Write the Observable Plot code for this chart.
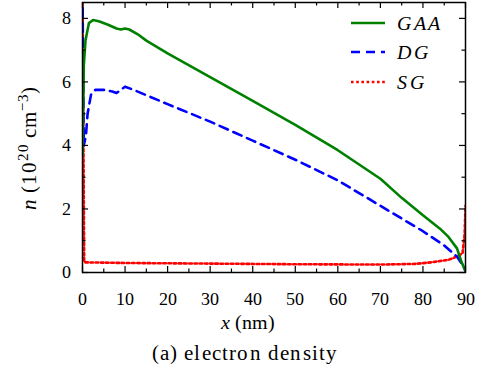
<!DOCTYPE html>
<html>
<head>
<meta charset="utf-8">
<script src="https://cdn.jsdelivr.net/npm/d3@7"></script>
<script src="https://cdn.jsdelivr.net/npm/@observablehq/plot@0.6"></script>
<style>
  @font-face { font-family: "ChartSerif"; font-style: normal; src: local("Liberation Serif"), local("LiberationSerif"), local("Times New Roman"); }
  @font-face { font-family: "ChartSerif"; font-style: italic; src: local("Liberation Serif Italic"), local("LiberationSerif-Italic"), local("Times New Roman Italic"); }
  html, body { margin: 0; padding: 0; background: #fff; }
  .caption { font-family: "ChartSerif", "Liberation Serif", serif !important; font-size: 21px; letter-spacing: 1.2px; text-align: center; width: 486px; margin-top: 3px; padding-left: 2px; }
  #chart svg text, #chart svg tspan { font-family: "ChartSerif", "Liberation Serif", serif !important; }
</style>
</head>
<body>
<div id="chart"></div>
<div class="caption">(a) electron density</div>
<script>
// Electron density along the channel, three device geometries
const gaaX = [0, 0.3, 0.7, 1.5, 2.5, 4, 6, 8, 9, 10, 11, 13, 15, 20, 30, 40, 50, 60, 70, 75, 80, 84, 86, 88, 89, 90];
const gaaN = [3.7, 6.5, 7.3, 7.85, 7.95, 7.9, 7.8, 7.68, 7.65, 7.68, 7.65, 7.5, 7.3, 6.9, 6.15, 5.4, 4.65, 3.85, 2.95, 2.35, 1.8, 1.38, 1.12, 0.76, 0.35, 0.05];

const dgX = [0, 0.3, 0.8, 1.2, 2, 3, 5, 7, 8, 10, 12, 20, 30, 40, 50, 60, 70, 75, 80, 85, 88, 89.5, 90];
const dgN = [8.8, 4.0, 4.3, 5.0, 5.6, 5.75, 5.75, 5.7, 5.65, 5.85, 5.75, 5.3, 4.75, 4.15, 3.55, 2.9, 2.1, 1.7, 1.3, 0.85, 0.5, 0.2, 0.05];

const sgX = [0, 0.4, 10, 30, 50, 70, 78, 82, 86, 88, 89.3, 89.8, 90];
const sgN = [8.8, 0.32, 0.3, 0.28, 0.26, 0.25, 0.27, 0.32, 0.4, 0.5, 0.6, 1.2, 2.1];

const xMajor = [0, 10, 20, 30, 40, 50, 60, 70, 80, 90];
const xMinor = [5, 15, 25, 35, 45, 55, 65, 75, 85];
const yMajor = [0, 2, 4, 6, 8];
const yMinor = [1, 3, 5, 7];

const seriesNames = ["GAA", "DG", "SG"];
const seriesColors = ["#008000", "#0000ff", "#ff0000"];
const seriesDash = [null, "9,6", "2.6,2.6"];

const toRows = (xs, ns) => xs.map((x, i) => ({x, n: ns[i]}));
const gaa = toRows(gaaX, gaaN);
const dg = toRows(dgX, dgN);
const sg = toRows(sgX, sgN);

const FONT = "ChartSerif, 'Liberation Serif', serif";
const W = 486, H = 338;
const mL = 82, mR = 21, mT = 2, mB = 66;
const frameW = W - mL - mR;
const frameH = H - mT - mB;
const major = 6, minor = 3.5;
const tickStyle = {stroke: "#000", strokeWidth: 1.2};

const plot = Plot.plot({
  width: W,
  height: H,
  marginLeft: mL,
  marginRight: mR,
  marginTop: mT,
  marginBottom: mB,
  style: {background: "#fff", overflow: "visible"},
  x: {domain: [0, 90]},
  y: {domain: [0, 8.5]},
  marks: [
    Plot.lineY(sg, {x: "x", y: "n", stroke: seriesColors[2], strokeWidth: 2.6, strokeDasharray: seriesDash[2], clip: "frame"}),
    Plot.lineY(dg, {x: "x", y: "n", stroke: seriesColors[1], strokeWidth: 2.6, strokeDasharray: seriesDash[1], clip: "frame"}),
    Plot.lineY(gaa, {x: "x", y: "n", stroke: seriesColors[0], strokeWidth: 2.6, clip: "frame"}),
    // inward ticks on all four sides
    Plot.tickX(xMajor, {x: d => d, insetTop: frameH - major, ...tickStyle}),
    Plot.tickX(xMajor, {x: d => d, insetBottom: frameH - major, ...tickStyle}),
    Plot.tickX(xMinor, {x: d => d, insetTop: frameH - minor, ...tickStyle}),
    Plot.tickX(xMinor, {x: d => d, insetBottom: frameH - minor, ...tickStyle}),
    Plot.tickY(yMajor, {y: d => d, insetRight: frameW - major, ...tickStyle}),
    Plot.tickY(yMajor, {y: d => d, insetLeft: frameW - major, ...tickStyle}),
    Plot.tickY(yMinor, {y: d => d, insetRight: frameW - minor, ...tickStyle}),
    Plot.tickY(yMinor, {y: d => d, insetLeft: frameW - minor, ...tickStyle}),
    Plot.axisX(xMajor, {tickSize: 0, tickPadding: 20, fontSize: 18, label: null, fill: "#000"}),
    Plot.axisY(yMajor, {tickSize: 0, tickPadding: 12, fontSize: 18, label: null, fill: "#000"}),
    Plot.frame({stroke: "#000", strokeWidth: 1.5})
  ]
});

document.getElementById("chart").appendChild(plot);

const svg = d3.select(plot);

// axis titles
const xt = svg.append("text")
  .attr("x", 248).attr("y", 329)
  .attr("text-anchor", "middle")
  .attr("font-size", 20).attr("fill", "#000");
xt.append("tspan").attr("font-style", "italic").text("x");
xt.append("tspan").text(" (nm)");

const yt = svg.append("text")
  .attr("transform", "translate(36,148) rotate(-90)")
  .attr("text-anchor", "middle")
  .attr("font-size", 21).attr("letter-spacing", 0.8).attr("fill", "#000");
yt.append("tspan").attr("font-style", "italic").text("n");
yt.append("tspan").text(" (10");
yt.append("tspan").attr("font-size", 15).attr("dy", -8).text("20");
yt.append("tspan").attr("dy", 8).text(" cm");
yt.append("tspan").attr("font-size", 15).attr("dy", -8).text("\u22123");
yt.append("tspan").attr("dy", 8).text(")");

// legend, top right inside the frame
const legendY = [23, 52, 82];
seriesNames.forEach((name, i) => {
  svg.append("line")
    .attr("x1", 351).attr("x2", 385)
    .attr("y1", legendY[i]).attr("y2", legendY[i])
    .attr("stroke", seriesColors[i]).attr("stroke-width", 2.6)
    .attr("stroke-dasharray", seriesDash[i]);
  svg.append("text")
    .attr("x", 397).attr("y", legendY[i] + 7)
    .attr("text-anchor", "start")
    .attr("font-size", 20).attr("font-style", "italic")
    .attr("letter-spacing", 2.5)
    .attr("fill", "#000")
    .text(name);
});

// serif type for every text in the figure
svg.selectAll("text, tspan").each(function() {
  this.setAttribute("font-family", FONT);
  this.style.setProperty("font-family", FONT, "important");
});
document.querySelector(".caption").style.setProperty("font-family", FONT, "important");
</script>
</body>
</html>
